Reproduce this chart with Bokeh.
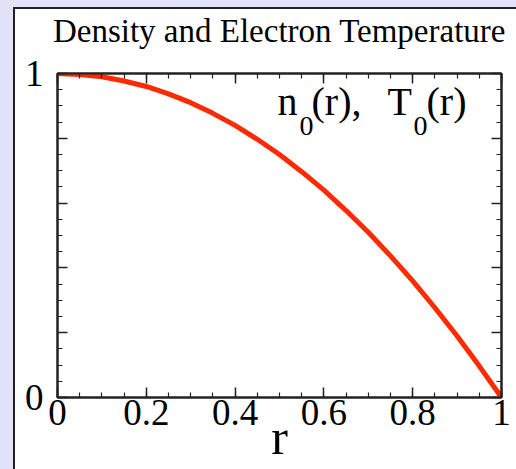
from bokeh.plotting import figure
from bokeh.models import LinearAxis, FixedTicker, Label, Range1d
from bokeh.embed import file_html
from bokeh.resources import INLINE

# ---- data ----
r_values = [0.0, 0.05, 0.10, 0.15, 0.20, 0.25, 0.30, 0.35, 0.40, 0.45, 0.50,
            0.55, 0.60, 0.65, 0.70, 0.75, 0.80, 0.85, 0.90, 0.95, 1.0]
profile_values = [1.0, 0.997, 0.99, 0.977, 0.96, 0.937, 0.91, 0.877, 0.84, 0.797, 0.75,
                  0.697, 0.64, 0.577, 0.51, 0.437, 0.36, 0.277, 0.19, 0.097, 0.0]

x_major_ticks = [0.0, 0.2, 0.4, 0.6, 0.8, 1.0]
x_tick_labels = ["0", "0.2", "0.4", "0.6", "0.8", "1"]
y_major_ticks = [0.0, 0.2, 0.4, 0.6, 0.8, 1.0]
y_tick_labels = ["0", "", "", "", "", "1"]
minor_ticks = [i * 0.05 for i in range(21)]

title_text = "Density and Electron Temperature"
x_label_text = "r"
legend_parts = ["n", "0", "(r),", "T", "0", "(r)"]

# ---- layout ----
W, H = 516, 469
FL, FR, FT, FB = 57, 501, 73, 397  # frame in window pixels
FONT = "Liberation Serif"
BG = "#e2e2f8"
RED = "#ff2a00"
DARK = "#222222"

p = figure(width=W, height=H, output_backend="svg", toolbar_location=None,
           x_range=Range1d(0, 1), y_range=Range1d(0, 1),
           x_axis_location=None, y_axis_location=None,
           min_border_left=FL, min_border_right=W - FR,
           min_border_top=FT, min_border_bottom=H - FB)
p.border_fill_alpha = 0.0
p.background_fill_color = "white"
p.outline_line_color = DARK
p.outline_line_width = 2
p.xgrid.visible = False
p.ygrid.visible = False
# lavender strips on the left and top, with the dark edge of the white panel
p.styles = {"background": (
    f"linear-gradient({DARK},{DARK}) 13px 7px / 2px 100% no-repeat, "
    f"linear-gradient({DARK},{DARK}) 13px 7px / 100% 2px no-repeat, "
    f"linear-gradient({BG},{BG}) 0px 0px / 100% 7px no-repeat, "
    f"linear-gradient({BG},{BG}) 0px 0px / 13px 100% no-repeat, white")}


def make_axis(ticks, labels, show):
    ax = LinearAxis(ticker=FixedTicker(ticks=ticks, minor_ticks=minor_ticks))
    ax.axis_line_color = DARK
    ax.axis_line_width = 2
    ax.major_tick_in = 10
    ax.major_tick_out = 0
    ax.minor_tick_in = 5
    ax.minor_tick_out = 0
    ax.major_tick_line_color = DARK
    ax.minor_tick_line_color = DARK
    ax.major_tick_line_width = 1.5
    ax.minor_tick_line_width = 1.2
    ax.major_label_text_font = FONT
    ax.major_label_text_color = "black"
    if show:
        ax.major_label_overrides = {t: l for t, l in zip(ticks, labels)}
        ax.major_label_text_font_size = "37px"
    else:
        ax.major_label_overrides = {t: "" for t in ticks}
        ax.major_label_text_font_size = "1px"
        ax.major_label_standoff = 0
    return ax


xb = make_axis(x_major_ticks, x_tick_labels, True)
xb.major_label_standoff = 2
xb.axis_label = x_label_text
xb.axis_label_text_font = FONT
xb.axis_label_text_font_size = "50px"
xb.axis_label_text_font_style = "normal"
xb.axis_label_text_color = "black"
xb.axis_label_standoff = -19
p.add_layout(xb, "below")

# top mirror axis carries the chart title as its label
xa = make_axis(x_major_ticks, x_tick_labels, False)
xa.axis_label = title_text
xa.axis_label_text_font = FONT
xa.axis_label_text_font_size = "33px"
xa.axis_label_text_font_style = "normal"
xa.axis_label_text_color = "black"
xa.axis_label_standoff = 25
p.add_layout(xa, "above")

yl = make_axis(y_major_ticks, y_tick_labels, True)
yl.major_label_standoff = 14
p.add_layout(yl, "left")
p.add_layout(make_axis(y_major_ticks, y_tick_labels, False), "right")

p.line(r_values, profile_values, line_color=RED, line_width=5)


def canvas_label(x, y, text, size, align="left"):
    return Label(x=x, y=y, x_units="canvas", y_units="canvas", text=text,
                 text_font=FONT, text_font_size=size, text_color="black",
                 text_align=align, text_baseline="alphabetic")


shift = 18
pieces = [(277, legend_parts[0], 119 - shift, "40px"),
          (299, legend_parts[1], 143 - shift, "28px"),
          (311, legend_parts[2], 119 - shift, "40px"),
          (387, legend_parts[3], 119 - shift, "40px"),
          (413, legend_parts[4], 143 - shift, "28px"),
          (426, legend_parts[5], 119 - shift, "40px")]
for px, txt, base, size in pieces:
    p.add_layout(canvas_label(px, base, txt, size))

open("out.html", "w").write(file_html(p, INLINE))
